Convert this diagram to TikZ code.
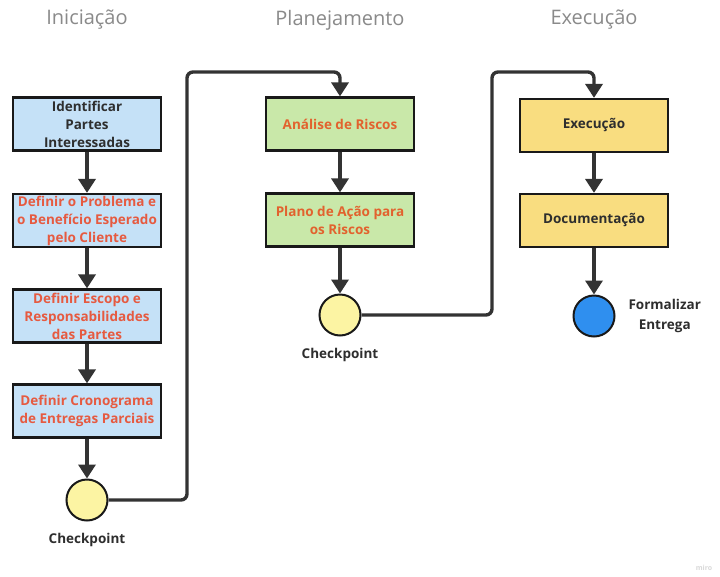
\documentclass[tikz,border=0pt]{standalone}
\usepackage{fontspec}
\setmainfont{Open Sans}
\usetikzlibrary{arrows.meta}
\definecolor{bluebox}{HTML}{C5E1F7}
\definecolor{greenbox}{HTML}{C9E8A9}
\definecolor{yellowbox}{HTML}{F9DD80}
\definecolor{ckfill}{HTML}{FCF4A3}
\definecolor{endfill}{HTML}{2F8FEF}
\definecolor{redtxt}{HTML}{E65A40}
\definecolor{orangetxt}{HTML}{E2622E}
\definecolor{darktxt}{HTML}{2E2E2E}
\definecolor{linec}{HTML}{333333}
\definecolor{titlec}{HTML}{8A8A8A}
\begin{document}
\begin{tikzpicture}[x=1pt,y=-1pt,
  stepbox/.style={draw=black!90, line width=2.2pt, minimum width=148pt, minimum height=53pt,
     align=center, inner sep=0pt, font=\fontsize{13.5}{18}\selectfont\bfseries},
  blue/.style={stepbox, fill=bluebox},
  green/.style={stepbox, fill=greenbox},
  yellow/.style={stepbox, fill=yellowbox},
  ck/.style={circle, draw=black!90, line width=2pt, minimum size=41pt, inner sep=0pt, fill=ckfill},
  fin/.style={ck, fill=endfill},
  lbl/.style={font=\fontsize{13.5}{20}\selectfont\bfseries, text=darktxt, align=center},
  title/.style={font=\fontsize{20}{24}\selectfont, text=titlec},
  flow/.style={line width=3.4pt, draw=linec, -{Triangle[length=14pt,width=17pt]}},
  link/.style={flow, rounded corners=6pt}
]
\useasboundingbox (0,0) rectangle (720,576);
\fill[white] (0,0) rectangle (720,576);

\node[title] (t1) at (87,20) {Iniciação};
\node[title] (t2) at (340,20) {Planejamento};
\node[title] (t3) at (594,20) {Execução};

% column 1
\node[blue, text=darktxt] (a1) at (87,124) {Identificar\\Partes\\Interessadas};
\node[blue, text=redtxt] (a2) at (87,220.5) {Definir o Problema e\\o Benefício Esperado\\pelo Cliente};
\node[blue, text=redtxt] (a3) at (87,316) {Definir Escopo e\\Responsabilidades\\das Partes};
\node[blue, text=redtxt] (a4) at (87,411) {Definir Cronograma\\de Entregas Parciais};
\node[ck] (c1) at (87,500) {};
\node[lbl] (c1l) at (87,540) {Checkpoint};

% column 2
\node[green, text=orangetxt] (b1) at (340,124) {Análise de Riscos};
\node[green, text=orangetxt] (b2) at (340,220) {Plano de Ação para\\os Riscos};
\node[ck] (c2) at (340,315) {};
\node[lbl] (c2l) at (340,355) {Checkpoint};

% column 3
\node[yellow, text=darktxt] (e1) at (594,125.5) {Execução};
\node[yellow, text=darktxt] (e2) at (594,220.5) {Documentação};
\node[fin] (f) at (594,316) {};
\node[lbl, anchor=west] (fl) at (625,316) {Formalizar\\Entrega};

\node[font=\fontsize{7}{8}\selectfont\bfseries, text=black!15] (wm) at (704,568) {miro};

% arrows
\draw[flow] (a1) -- (a2);
\draw[flow] (a2) -- (a3);
\draw[flow] (a3) -- (a4);
\draw[flow] (a4) -- (c1);
\draw[flow] (b1) -- (b2);
\draw[flow] (b2) -- (c2);
\draw[flow] (e1) -- (e2);
\draw[flow] (e2) -- (f);

\draw[link] (c1.east) -| (187,72) -| (b1.north);
\draw[link] (c2.east) -| (492,72) -| (e1.north);
\end{tikzpicture}
\end{document}
